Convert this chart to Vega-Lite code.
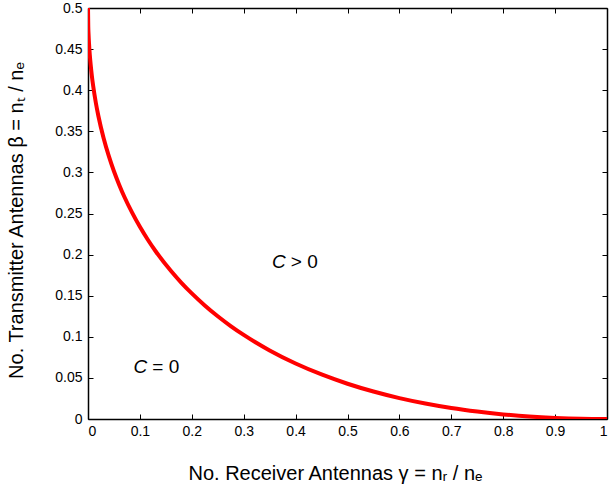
{
  "$schema": "https://vega.github.io/schema/vega-lite/v6.json",
  "width": 519,
  "height": 411,
  "autosize": {"type": "none"},
  "padding": {"left": 88, "top": 8, "right": 4, "bottom": 74},
  "background": "white",
  "config": {
    "font": "Liberation Sans",
    "view": {"stroke": null},
    "axis": {
      "grid": false,
      "domainColor": "#000000",
      "domainWidth": 1.5,
      "tickColor": "#000000",
      "tickWidth": 1,
      "tickSize": -5,
      "labelFont": "Liberation Sans",
      "labelFontSize": 14,
      "labelColor": "#000000",
      "titleFont": "Liberation Sans",
      "titleFontSize": 20,
      "titleFontWeight": "normal",
      "titleColor": "#000000"
    }
  },
  "datasets": {
    "curve": [
      {"gamma": 0, "beta": 0.5},
      {"gamma": 0.0005, "beta": 0.4779},
      {"gamma": 0.001, "beta": 0.4689},
      {"gamma": 0.002, "beta": 0.4563},
      {"gamma": 0.0035, "beta": 0.4426},
      {"gamma": 0.005, "beta": 0.4318},
      {"gamma": 0.0075, "beta": 0.4171},
      {"gamma": 0.01, "beta": 0.405},
      {"gamma": 0.015, "beta": 0.385},
      {"gamma": 0.02, "beta": 0.3686},
      {"gamma": 0.03, "beta": 0.3418},
      {"gamma": 0.04, "beta": 0.32},
      {"gamma": 0.05, "beta": 0.3014},
      {"gamma": 0.06, "beta": 0.2851},
      {"gamma": 0.07, "beta": 0.2704},
      {"gamma": 0.085, "beta": 0.251},
      {"gamma": 0.1, "beta": 0.2338},
      {"gamma": 0.115, "beta": 0.2184},
      {"gamma": 0.13, "beta": 0.2044},
      {"gamma": 0.16, "beta": 0.18},
      {"gamma": 0.18, "beta": 0.1657},
      {"gamma": 0.2, "beta": 0.1528},
      {"gamma": 0.225, "beta": 0.1382},
      {"gamma": 0.25, "beta": 0.125},
      {"gamma": 0.275, "beta": 0.1131},
      {"gamma": 0.3, "beta": 0.1023},
      {"gamma": 0.35, "beta": 0.0834},
      {"gamma": 0.4, "beta": 0.0675},
      {"gamma": 0.45, "beta": 0.0542},
      {"gamma": 0.5, "beta": 0.0429},
      {"gamma": 0.55, "beta": 0.0334},
      {"gamma": 0.6, "beta": 0.0254},
      {"gamma": 0.65, "beta": 0.0188},
      {"gamma": 0.7, "beta": 0.0133},
      {"gamma": 0.75, "beta": 0.009},
      {"gamma": 0.8, "beta": 0.0056},
      {"gamma": 0.85, "beta": 0.003},
      {"gamma": 0.9, "beta": 0.0013},
      {"gamma": 0.95, "beta": 0.0003},
      {"gamma": 1.0, "beta": 0}
    ],
    "labels": [
      {"gamma": 0.387, "beta": 0.191, "c": "C", "rest": "> 0"},
      {"gamma": 0.12, "beta": 0.063, "c": "C", "rest": "= 0"}
    ]
  },
  "layer": [
    {
      "data": {"name": "curve"},
      "mark": {"type": "line", "color": "#ff0000", "strokeWidth": 4, "interpolate": "monotone", "clip": true},
      "encoding": {
        "x": {
          "field": "gamma", "type": "quantitative",
          "scale": {"domain": [0, 1], "nice": false, "zero": false},
          "axis": {
            "orient": "bottom",
            "values": [0, 0.1, 0.2, 0.3, 0.4, 0.5, 0.6, 0.7, 0.8, 0.9, 1],
            "format": "~g",
            "labelPadding": 10,
            "title": "No. Receiver Antennas  γ = nᵣ / nₑ",
            "titleX": 247,
            "titleAlign": "center",
            "titlePadding": 25
          }
        },
        "y": {
          "field": "beta", "type": "quantitative",
          "scale": {"domain": [0, 0.5], "nice": false, "zero": false},
          "axis": {
            "orient": "left",
            "values": [0, 0.05, 0.1, 0.15, 0.2, 0.25, 0.3, 0.35, 0.4, 0.45, 0.5],
            "format": "~g",
            "labelPadding": 11,
            "title": "No. Transmitter Antennas  β = nₜ / nₑ",
            "titleY": 212,
            "titleAlign": "center",
            "titlePadding": 28
          }
        }
      }
    },
    {
      "data": {"name": "curve"},
      "mark": {"type": "point", "opacity": 0},
      "encoding": {
        "x": {
          "field": "gamma", "type": "quantitative",
          "axis": {
            "orient": "top",
            "values": [0, 0.1, 0.2, 0.3, 0.4, 0.5, 0.6, 0.7, 0.8, 0.9, 1],
            "labels": false,
            "title": null
          }
        },
        "y": {
          "field": "beta", "type": "quantitative",
          "axis": {
            "orient": "right",
            "values": [0, 0.05, 0.1, 0.15, 0.2, 0.25, 0.3, 0.35, 0.4, 0.45, 0.5],
            "labels": false,
            "title": null
          }
        }
      }
    },
    {
      "data": {"name": "labels"},
      "mark": {"type": "text", "align": "right", "baseline": "middle", "fontStyle": "italic", "fontSize": 19, "font": "Liberation Sans", "color": "#000000", "dx": -3},
      "encoding": {
        "x": {"field": "gamma", "type": "quantitative", "axis": null},
        "y": {"field": "beta", "type": "quantitative", "axis": null},
        "text": {"field": "c"}
      }
    },
    {
      "data": {"name": "labels"},
      "mark": {"type": "text", "align": "left", "baseline": "middle", "fontSize": 19, "font": "Liberation Sans", "color": "#000000", "dx": 2},
      "encoding": {
        "x": {"field": "gamma", "type": "quantitative", "axis": null},
        "y": {"field": "beta", "type": "quantitative", "axis": null},
        "text": {"field": "rest"}
      }
    }
  ],
  "resolve": {"axis": {"x": "independent", "y": "independent"}}
}
